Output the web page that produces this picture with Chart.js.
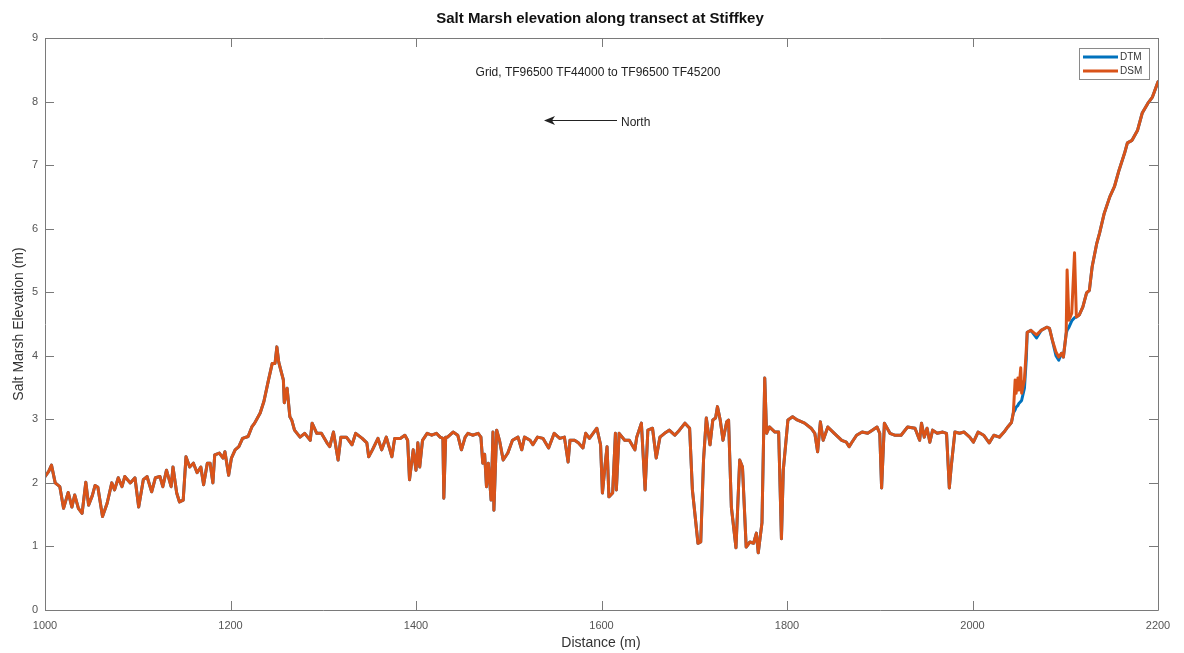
<!DOCTYPE html>
<html>
<head>
<meta charset="utf-8">
<script src="https://cdn.jsdelivr.net/npm/chart.js@4"></script>
<style>
  html, body { margin: 0; padding: 0; background: #ffffff; }
  canvas { display: block; }
</style>
</head>
<body>
<canvas id="chart" width="1184" height="653"></canvas>
<script>
// Distance along the transect (m)
const distance = [
  1000,1004,1007,1011,1016,1020,1025,1029,1032,1036,1040,1044,1047,1051,1054,1057,1062,1067,1072,1075,
  1079,1083,1086,1092,1097,1101,1106,1110,1115,1119,1124,1127,1131,1136,1138,1142,1145,1149,1152,1156,
  1160,1164,1168,1171,1175,1178,1181,1183,1188,1192,1194,1198,1201,1205,1209,1213,1219,1223,1226,1232,
  1236,1241,1245,1248,1250,1252,1255,1257,1258,1261,1264,1266,1269,1275,1280,1286,1288,1293,1298,1304,
  1307,1311,1316,1319,1325,1331,1335,1342,1347,1349,1353,1359,1363,1368,1374,1377,1383,1388,1391,1393,
  1397,1400,1402,1404,1407,1412,1417,1422,1426,1429,1430,1432,1434,1440,1445,1449,1453,1456,1461,1467,
  1470,1472,1474,1476,1478,1481,1483,1484,1487,1490,1494,1499,1504,1510,1514,1517,1523,1526,1531,1537,
  1543,1549,1555,1560,1564,1566,1571,1575,1580,1583,1587,1595,1599,1601,1604,1606,1608,1612,1615,1616,
  1619,1625,1630,1636,1638,1643,1647,1650,1655,1659,1663,1668,1673,1679,1684,1690,1695,1698,1704,1707,
  1710,1713,1717,1720,1723,1725,1728,1731,1735,1737,1740,1745,1749,1752,1756,1760,1764,1767,1769,1773,
  1776,1778,1781,1787,1791,1794,1796,1801,1806,1811,1819,1826,1830,1833,1836,1839,1844,1851,1859,1864,
  1867,1870,1875,1881,1887,1892,1897,1900,1902,1905,1911,1916,1923,1930,1938,1943,1945,1948,1951,1954,
  1957,1962,1968,1972,1975,1977,1981,1986,1991,1997,2001,2006,2012,2018,2023,2029,2034,2038,2042,2044,
  2046,2047,2049,2050,2052,2053,2056,2058,2059,2063,2069,2074,2080,2083,2086,2090,2093,2096,2098,2101,
  2102,2104,2107,2110,2112,2115,2119,2123,2126,2129,2134,2137,2142,2148,2153,2158,2164,2167,2172,2178,
  2183,2189,2194,2200
];

// Digital terrain model elevation (m)
const dtm = [
  2.10,2.18,2.28,2.00,1.94,1.60,1.85,1.62,1.81,1.60,1.52,2.01,1.65,1.80,1.96,1.93,1.47,1.68,2.00,1.89,
  2.08,1.94,2.10,2.00,2.08,1.62,2.05,2.10,1.86,2.08,2.10,1.94,2.20,1.94,2.25,1.84,1.70,1.73,2.41,2.25,
  2.31,2.16,2.25,1.97,2.31,2.31,2.00,2.44,2.47,2.39,2.49,2.12,2.39,2.52,2.57,2.70,2.73,2.88,2.94,3.10,
  3.28,3.62,3.88,3.88,4.14,3.90,3.73,3.62,3.26,3.49,3.04,2.99,2.83,2.72,2.78,2.67,2.94,2.78,2.78,2.63,
  2.57,2.80,2.36,2.72,2.72,2.60,2.78,2.70,2.63,2.41,2.52,2.70,2.52,2.72,2.41,2.70,2.70,2.75,2.67,2.05,
  2.52,2.20,2.63,2.25,2.67,2.78,2.75,2.78,2.72,2.70,1.76,2.72,2.72,2.80,2.75,2.52,2.72,2.78,2.75,2.78,
  2.72,2.31,2.45,1.94,2.31,1.73,2.80,1.57,2.83,2.67,2.36,2.47,2.67,2.72,2.52,2.72,2.67,2.60,2.72,2.70,
  2.55,2.78,2.70,2.72,2.33,2.67,2.67,2.63,2.55,2.78,2.70,2.86,2.60,1.84,2.30,2.57,1.78,1.84,2.78,1.89,
  2.78,2.67,2.67,2.52,2.72,2.94,1.89,2.83,2.86,2.39,2.72,2.78,2.83,2.75,2.83,2.94,2.86,1.89,1.05,1.07,
  2.36,3.02,2.60,2.99,3.02,3.20,2.99,2.67,2.96,2.99,1.62,0.98,2.36,2.25,0.99,1.07,1.05,1.21,0.90,1.37,
  3.65,2.78,2.88,2.80,2.80,1.12,2.20,2.99,3.04,2.99,2.94,2.86,2.78,2.49,2.96,2.67,2.88,2.78,2.67,2.64,
  2.57,2.64,2.75,2.80,2.78,2.83,2.88,2.78,1.92,2.94,2.78,2.75,2.75,2.88,2.86,2.67,2.94,2.72,2.86,2.64,
  2.83,2.78,2.80,2.78,1.92,2.25,2.80,2.78,2.80,2.72,2.64,2.80,2.75,2.63,2.75,2.72,2.80,2.88,2.95,3.10,
  3.15,3.19,3.22,3.25,3.28,3.30,3.49,3.95,4.37,4.40,4.28,4.40,4.45,4.43,4.25,4.00,3.93,4.04,3.98,4.35,
  4.40,4.45,4.55,4.60,4.61,4.64,4.77,4.99,5.03,5.40,5.77,5.93,6.24,6.50,6.66,6.92,7.19,7.35,7.39,7.55,
  7.82,7.97,8.07,8.31
];

// Digital surface model elevation (m)
const dsm = [
  2.10,2.18,2.28,2.00,1.94,1.60,1.85,1.62,1.81,1.60,1.52,2.01,1.65,1.80,1.96,1.93,1.47,1.68,2.00,1.89,
  2.08,1.94,2.10,2.00,2.08,1.62,2.05,2.10,1.86,2.08,2.10,1.94,2.20,1.94,2.25,1.84,1.70,1.73,2.41,2.25,
  2.31,2.16,2.25,1.97,2.31,2.31,2.00,2.44,2.47,2.39,2.49,2.12,2.39,2.52,2.57,2.70,2.73,2.88,2.94,3.10,
  3.28,3.62,3.88,3.88,4.14,3.90,3.73,3.62,3.26,3.49,3.04,2.99,2.83,2.72,2.78,2.67,2.94,2.78,2.78,2.63,
  2.57,2.80,2.36,2.72,2.72,2.60,2.78,2.70,2.63,2.41,2.52,2.70,2.52,2.72,2.41,2.70,2.70,2.75,2.67,2.05,
  2.52,2.20,2.63,2.25,2.67,2.78,2.75,2.78,2.72,2.70,1.76,2.72,2.72,2.80,2.75,2.52,2.72,2.78,2.75,2.78,
  2.72,2.31,2.45,1.94,2.31,1.73,2.80,1.57,2.83,2.67,2.36,2.47,2.67,2.72,2.52,2.72,2.67,2.60,2.72,2.70,
  2.55,2.78,2.70,2.72,2.33,2.67,2.67,2.63,2.55,2.78,2.70,2.86,2.60,1.84,2.30,2.57,1.78,1.84,2.78,1.89,
  2.78,2.67,2.67,2.52,2.72,2.94,1.89,2.83,2.86,2.39,2.72,2.78,2.83,2.75,2.83,2.94,2.86,1.89,1.05,1.07,
  2.36,3.02,2.60,2.99,3.02,3.20,2.99,2.67,2.96,2.99,1.62,0.98,2.36,2.25,0.99,1.07,1.05,1.21,0.90,1.37,
  3.65,2.78,2.88,2.80,2.80,1.12,2.20,2.99,3.04,2.99,2.94,2.86,2.78,2.49,2.96,2.67,2.88,2.78,2.67,2.64,
  2.57,2.64,2.75,2.80,2.78,2.83,2.88,2.78,1.92,2.94,2.78,2.75,2.75,2.88,2.86,2.67,2.94,2.72,2.86,2.64,
  2.83,2.78,2.80,2.78,1.92,2.25,2.80,2.78,2.80,2.72,2.64,2.80,2.75,2.63,2.75,2.72,2.80,2.88,2.95,3.10,
  3.62,3.41,3.65,3.46,3.81,3.41,3.62,4.10,4.37,4.40,4.33,4.40,4.45,4.43,4.25,4.06,3.98,4.04,3.98,4.35,
  5.35,4.56,4.67,5.62,4.61,4.64,4.77,4.99,5.03,5.40,5.77,5.93,6.24,6.50,6.66,6.92,7.19,7.35,7.39,7.55,
  7.82,7.97,8.07,8.31
];

// Axis ticks
const xTicks = [1000, 1200, 1400, 1600, 1800, 2000, 2200];
const yTicks = [0, 1, 2, 3, 4, 5, 6, 7, 8, 9];

const seriesNames = ['DTM', 'DSM'];
const seriesColors = ['#0072BD', '#D95319'];

const FONT = '"Liberation Sans", Arial, Helvetica, sans-serif';
const AXIS_COLOR = '#7a7a7a';
const TICK_COLOR = '#555555';

function toPoints(values) {
  return distance.map((d, i) => ({ x: d, y: values[i] }));
}

// Box around the plot, inward tick marks, titles, annotation and legend
const decorations = {
  id: 'decorations',
  afterDatasetsDraw(chart) {
    const ctx = chart.ctx;
    const a = chart.chartArea;
    const xs = chart.scales.x;
    const ys = chart.scales.y;
    const tickLen = 9;

    ctx.save();
    ctx.strokeStyle = AXIS_COLOR;
    ctx.lineWidth = 1;
    ctx.beginPath();
    ctx.rect(Math.round(a.left) + 0.5, Math.round(a.top) + 0.5,
             Math.round(a.right - a.left), Math.round(a.bottom - a.top));
    ctx.stroke();

    ctx.beginPath();
    xTicks.forEach(v => {
      const px = Math.round(xs.getPixelForValue(v)) + 0.5;
      ctx.moveTo(px, a.bottom); ctx.lineTo(px, a.bottom - tickLen);
      ctx.moveTo(px, a.top); ctx.lineTo(px, a.top + tickLen);
    });
    yTicks.forEach(v => {
      const py = Math.round(ys.getPixelForValue(v)) + 0.5;
      ctx.moveTo(a.left, py); ctx.lineTo(a.left + tickLen, py);
      ctx.moveTo(a.right, py); ctx.lineTo(a.right - tickLen, py);
    });
    ctx.stroke();

    // Title
    ctx.fillStyle = '#111111';
    ctx.font = 'bold 15px ' + FONT;
    ctx.textAlign = 'center';
    ctx.textBaseline = 'middle';
    ctx.fillText('Salt Marsh elevation along transect at Stiffkey', 600, 19);

    // Axis titles
    ctx.fillStyle = '#333333';
    ctx.font = '14px ' + FONT;
    ctx.fillText('Distance (m)', 601, 643);
    ctx.save();
    ctx.translate(19, 324);
    ctx.rotate(-Math.PI / 2);
    ctx.fillText('Salt Marsh Elevation (m)', 0, 0);
    ctx.restore();

    // Grid reference annotation
    ctx.fillStyle = '#222222';
    ctx.font = '12px ' + FONT;
    ctx.fillText('Grid, TF96500 TF44000 to TF96500 TF45200', 598, 73);

    // North arrow
    ctx.strokeStyle = '#222222';
    ctx.lineWidth = 1;
    ctx.beginPath();
    ctx.moveTo(617, 120.5);
    ctx.lineTo(550, 120.5);
    ctx.stroke();
    ctx.fillStyle = '#222222';
    ctx.beginPath();
    ctx.moveTo(544, 120.5);
    ctx.lineTo(555, 116);
    ctx.lineTo(552, 120.5);
    ctx.lineTo(555, 125);
    ctx.closePath();
    ctx.fill();
    ctx.textAlign = 'left';
    ctx.fillText('North', 621, 123);

    // Legend
    const lx = 1079, ly = 48, lw = 70, lh = 31;
    ctx.fillStyle = '#ffffff';
    ctx.fillRect(lx, ly, lw, lh);
    ctx.strokeStyle = '#8a8a8a';
    ctx.strokeRect(lx + 0.5, ly + 0.5, lw, lh);
    ctx.font = '10px ' + FONT;
    ctx.textBaseline = 'middle';
    seriesNames.forEach((name, i) => {
      const y = ly + 9 + i * 14;
      ctx.strokeStyle = seriesColors[i];
      ctx.lineWidth = 3;
      ctx.beginPath();
      ctx.moveTo(lx + 4, y);
      ctx.lineTo(lx + 39, y);
      ctx.stroke();
      ctx.fillStyle = '#333333';
      ctx.fillText(name, lx + 41, y + 0.5);
    });
    ctx.restore();
  }
};

const lineStyle = {
  borderWidth: 3,
  pointRadius: 0,
  tension: 0,
  borderJoinStyle: 'round',
  borderCapStyle: 'round'
};

new Chart(document.getElementById('chart'), {
  type: 'line',
  data: {
    datasets: [
      Object.assign({
        label: seriesNames[0],
        data: toPoints(dtm),
        borderColor: seriesColors[0],
        backgroundColor: seriesColors[0],
        order: 1
      }, lineStyle),
      Object.assign({
        label: seriesNames[1],
        data: toPoints(dsm),
        borderColor: seriesColors[1],
        backgroundColor: seriesColors[1],
        order: 0
      }, lineStyle)
    ]
  },
  options: {
    responsive: false,
    animation: false,
    devicePixelRatio: 1,
    layout: { padding: { top: 38, right: 26, left: 0, bottom: 0 } },
    plugins: {
      legend: { display: false },
      title: { display: false },
      tooltip: { enabled: false }
    },
    scales: {
      x: {
        type: 'linear',
        min: 1000,
        max: 2200,
        afterBuildTicks: s => { s.ticks = xTicks.map(v => ({ value: v })); },
        afterFit: s => { s.height = 43; },
        grid: { display: false, drawTicks: false },
        border: { display: false },
        ticks: {
          padding: 9,
          autoSkip: false,
          maxRotation: 0,
          color: TICK_COLOR,
          font: { family: FONT, size: 11 },
          callback: v => String(v)
        }
      },
      y: {
        type: 'linear',
        min: 0,
        max: 9,
        afterBuildTicks: s => { s.ticks = yTicks.map(v => ({ value: v })); },
        afterFit: s => { s.width = 45; },
        grid: { display: false, drawTicks: false },
        border: { display: false },
        ticks: {
          padding: 7,
          autoSkip: false,
          color: TICK_COLOR,
          font: { family: FONT, size: 11 },
          callback: v => String(v)
        }
      }
    }
  },
  plugins: [decorations]
});
</script>
</body>
</html>
